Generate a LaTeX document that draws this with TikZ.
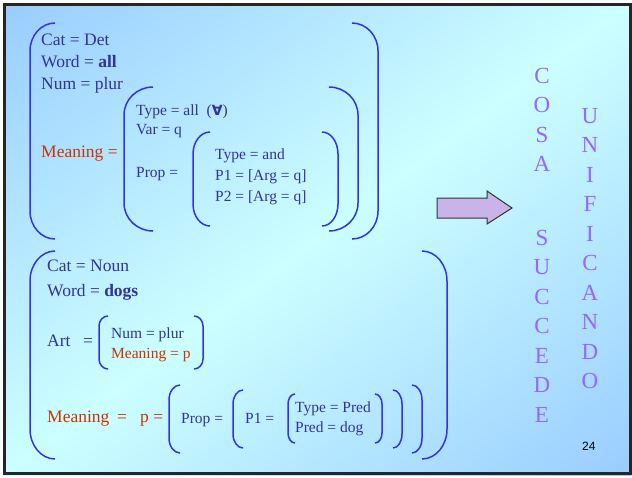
\documentclass[tikz,border=0pt]{standalone}
\usepackage{fontspec}
\setmainfont{Liberation Serif}
\newfontfamily\djv{DejaVu Sans}
\newfontfamily\arialf{Liberation Sans}
\definecolor{txtblue}{HTML}{333399}
\definecolor{txtred}{HTML}{CC3300}
\definecolor{brkblue}{HTML}{3333E6}
\definecolor{lav}{HTML}{9966FF}
\definecolor{bgblue}{HTML}{99CCFF}
\definecolor{bgcyan}{HTML}{CCFFFF}
\definecolor{arrfill}{HTML}{C9B3E8}
% bracket: #1 vertical x, #2 end x, #3 top y, #4 bottom y, #5 curve height
\newcommand\fbrk[5]{%
  \draw[brkline] (#2,#3) .. controls ({#2+0.552*(#1-#2)},#3) and (#1,{#3+0.448*#5}) .. (#1,{#3+#5})
    -- (#1,{#4-#5}) .. controls (#1,{#4-0.448*#5}) and ({#2+0.552*(#1-#2)},#4) .. (#2,#4);}
\begin{document}
\begin{tikzpicture}[x=1pt,y=-1pt,
  txt/.style={anchor=base west, inner sep=0pt, text=txtblue, font=\fontsize{17.5}{20}\selectfont},
  sub/.style={txt, font=\fontsize{15.5}{18}\selectfont},
  redtxt/.style={text=txtred},
  brkline/.style={draw=brkblue, line width=1.5pt},
  letter/.style={anchor=base, inner sep=0pt, text=lav, font=\fontsize{23}{26}\selectfont}]
\useasboundingbox (0,0) rectangle (632,477);
\fill[white] (0,0) rectangle (632,477);
% background: diagonal gradient, blue at top-left and bottom-right corners, cyan along the other diagonal
\begin{scope}
\clip (3,3) rectangle (631,475);
\begin{scope}[transform canvas={shift={(317,239)}, rotate=37}]
\shade[top color=bgblue, bottom color=bgblue, middle color=bgcyan] (-440,-380) rectangle (440,380);
\end{scope}
\end{scope}
\draw[line width=3pt, color=black!85] (4.5,4.5) rectangle (630.5,473.5);

% ---- Det block ----
\node[txt] (cat1) at (41,45) {Cat = Det};
\node[txt] (word1) at (41,67) {Word = \textbf{all}};
\node[txt] (num1) at (41,89) {Num = plur};
\node[txt, redtxt] (mean1) at (41,157) {Meaning =};
\node[sub] (type1) at (136,115) {Type = all\ \ ({\djv\bfseries\fontsize{14}{16}\selectfont ∀})};
\node[sub] (var1) at (136,134) {Var = q};
\node[sub] (prop1) at (136,177) {Prop =};
\node[sub] (typeand) at (215,159) {Type = and};
\node[sub] (p1) at (215,180) {P1 = [Arg = q]};
\node[sub] (p2) at (215,201) {P2 = [Arg = q]};
\fbrk{30}{55}{23}{239}{28}
\fbrk{378}{352}{23}{239}{28}
\fbrk{124}{153}{87}{231}{28}
\fbrk{358}{329}{87}{231}{28}
\fbrk{193}{210}{132}{226}{22}
\fbrk{338}{322}{132}{226}{22}

% ---- Noun block ----
\node[txt] (cat2) at (47,271) {Cat = Noun};
\node[txt] (word2) at (47,296) {Word = \textbf{dogs}};
\node[txt] (art) at (47,346) {Art};
\node[txt] (arteq) at (83,346) {=};
\node[sub] (num2) at (111,338) {Num = plur};
\node[sub, redtxt] (mean2) at (111,358) {Meaning = p};
\node[txt, redtxt] (mean3) at (47,422) {Meaning};
\node[txt, redtxt] (eq3) at (117,422) {=};
\node[txt, redtxt] (p3) at (140,422) {p =};
\node[sub] (prop2) at (181,423) {Prop =};
\node[sub] (p1b) at (245,423) {P1 =};
\node[sub] (typepred) at (295,412) {Type = Pred};
\node[sub] (predd) at (295,432) {Pred = dog};
\fbrk{30}{55}{251}{459}{30}
\fbrk{447}{422}{251}{459}{30}
\fbrk{99}{108}{316}{369}{10}
\fbrk{203}{194}{316}{369}{10}
\fbrk{169}{180}{385}{453}{15}
\fbrk{422}{412}{385}{453}{15}
\fbrk{233}{243}{390}{448}{14}
\fbrk{402}{393}{390}{448}{14}
\fbrk{288}{295}{394}{443}{10}
\fbrk{382}{375}{394}{443}{10}

% ---- arrow ----
\draw[fill=arrfill, draw=black!80, line width=1pt]
  (437,198) -- (487,198) -- (487,191) -- (512,208) -- (487,224) -- (487,218) -- (437,218) -- cycle;

% ---- vertical words ----
\foreach \l/\y [count=\i] in {C/83,O/112.5,S/142,A/171.5,S/245,U/274.5,C/304,C/333.5,E/363,D/392.5,E/422}
  \node[letter] (cosa\i) at (542,\y) {\l};
\foreach \l/\y [count=\i] in {U/123,N/152.5,I/182,F/211.5,I/241,C/270.5,A/300,N/329.5,D/359,O/388.5}
  \node[letter] (unif\i) at (590,\y) {\l};

\node[anchor=base west, inner sep=0pt, font=\arialf\fontsize{12}{14}\selectfont] (pnum) at (582,450) {24};
\end{tikzpicture}
\end{document}
